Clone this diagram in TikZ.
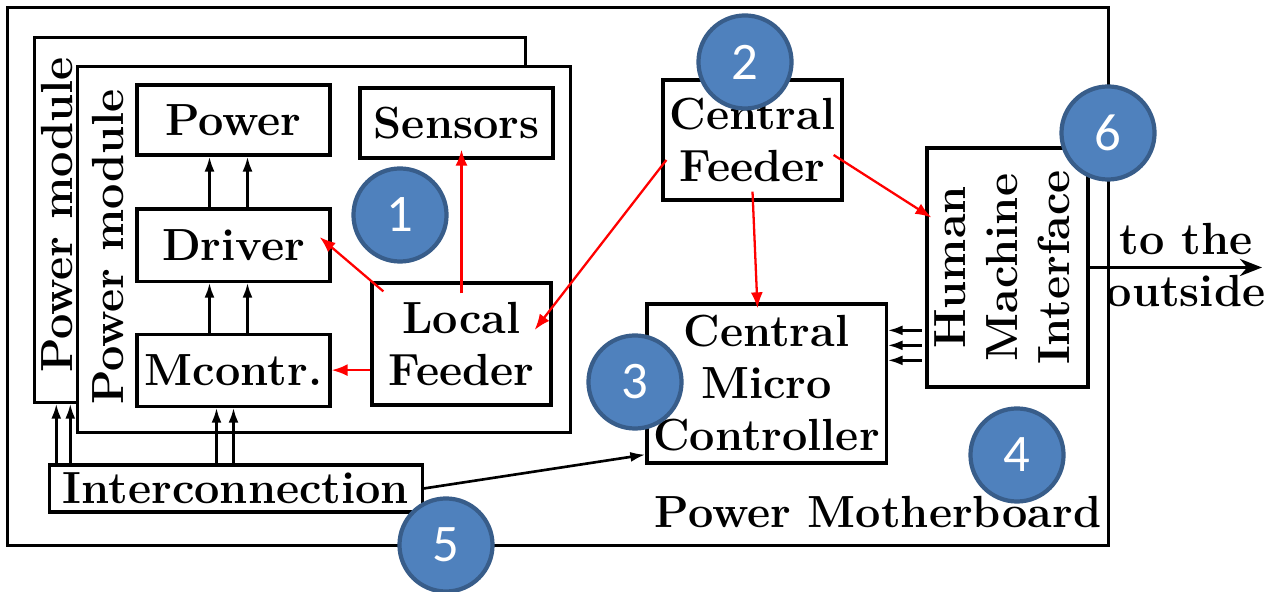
\documentclass[tikz,border=0pt]{standalone}
\usepackage{fontspec}
\usepackage{graphicx}
\newfontfamily\numfont{Carlito}
\usetikzlibrary{calc,arrows.meta}
\definecolor{bubblefill}{RGB}{79,129,189}
\definecolor{bubbledraw}{RGB}{56,93,138}

\begin{document}
\begin{tikzpicture}[x=0.01cm, y=-0.01cm, node distance=1.25cm,
    every node/.style={font=\fontsize{12.8}{14.8}\selectfont\bfseries, align=center},
    box/.style={draw, line width=0.9pt, fill=white, inner sep=0pt},
    bubble/.style={circle, draw=bubbledraw, fill=bubblefill, line width=1.2pt, minimum size=0.93cm, text=white, font=\fontsize{15}{18}\selectfont\numfont},
    link/.style={-{Latex[length=0.15cm, width=0.1cm]}, line width=0.75pt},
    feed/.style={-{Latex[length=0.16cm, width=0.12cm]}, red, line width=0.65pt}]

    \useasboundingbox (0,0) rectangle (1276,592);

    % Boards
    \node[box, minimum width=11cm, minimum height=5.37cm] (board) at (558,276.5) {};
    \node[box, minimum width=4.9cm, minimum height=3.64cm] (pmback) at (280,220) {};
    \node[rotate=90] (pmbacklbl) at (57,215) {Power module};
    \node[box, minimum width=4.92cm, minimum height=3.65cm] (pm) at (324,249.5) {};
    \node[rotate=90] (pmlbl) at (108,247) {Power module};

    % Nodes
    \node[box, minimum width=1.93cm, minimum height=0.7cm] (pwr) at (233.5,120) {Power};
    \node[box, minimum width=1.93cm, minimum height=0.72cm, below of=pwr] (drv) {Driver};
    \node[box, minimum width=1.93cm, minimum height=0.72cm, below of=drv] (mctr) {Mcontr.};
    \node[box, minimum width=1.93cm, minimum height=0.7cm] (sens) at (456.5,123) {Sensors};
    \node[box, minimum width=1.79cm, minimum height=1.22cm] (lfeed) at (461.5,344) {Local\\Feeder};

    \node[box, minimum width=1.79cm, minimum height=1.2cm] (cfeed) at (752.5,140) {Central\\Feeder};
    \node[box, minimum width=2.39cm, minimum height=1.59cm] (cmc) at (766.5,383.5) {Central\\Micro\\Controller};
    \node[box, minimum width=1.61cm, minimum height=2.39cm] (hmi) at (1007.5,267.5) {\rotatebox{90}{\begin{tabular}{@{}c@{}}Human\\Machine\\Interface\end{tabular}}};
    \node[box, minimum width=3.72cm, minimum height=0.47cm] (intc) at (236,488.5) {Interconnection};

    \node (mboard) at (878,512) {Power Motherboard};
    \node (outside) at (1186,265) {to the\\outside};
    \coordinate (exit) at (1262,267.5);

    % Edges inside the module
    \draw[link] ([shift={(-24,0)}]drv.north) -- ([shift={(-24,0)}]pwr.south);
    \draw[link] ([shift={(14,0)}]drv.north) -- ([shift={(14,0)}]pwr.south);
    \draw[link] ([shift={(-24,0)}]mctr.north) -- ([shift={(-24,0)}]drv.south);
    \draw[link] ([shift={(14,0)}]mctr.north) -- ([shift={(14,0)}]drv.south);

    % Edges from the interconnection
    \draw[link] ([shift={(-17,0)}]mctr.south |- intc.north) -- ([shift={(-17,0)}]mctr.south);
    \draw[link] ([shift={(0,0)}]mctr.south |- intc.north) -- ([shift={(0,0)}]mctr.south);
    \draw[link] ([shift={(23,0)}]pmback.south west |- intc.north) -- ([shift={(23,0)}]pmback.south west);
    \draw[link] ([shift={(37,0)}]pmback.south west |- intc.north) -- ([shift={(37,0)}]pmback.south west);
    \draw[link] (intc.east) -- ([shift={(0,-10)}]cmc.south west);

    % HMI to the controller and the outside
    \foreach \dy in {28,43,58}
        \draw[link, shorten <=1pt] ([shift={(0,\dy)}]cmc.north east -| hmi.west) -- ([shift={(0,\dy)}]cmc.north east);
    \draw[-{Stealth[length=0.22cm, width=0.17cm]}, line width=1.1pt] (hmi.east) -- (exit);

    % Feeder edges (red)
    \draw[feed] ([shift={(13,10)}]lfeed.north west) -- ([shift={(-12,-8)}]drv.east);
    \draw[feed] ([shift={(0,12)}]lfeed.north) -- ([shift={(5,-10)}]sens.south);
    \draw[feed] (lfeed.west |- mctr.east) -- (mctr.east);
    \draw[feed] ([shift={(5,20)}]cfeed.west) -- ([shift={(-18,-14)}]lfeed.east);
    \draw[feed] ([shift={(0,-10)}]cfeed.south) -- ([shift={(-9,6)}]cmc.north);
    \draw[feed] ([shift={(-10,15)}]cfeed.east) -- ([shift={(6,-50)}]hmi.west);

    % Numbered bubbles
    \node[bubble] (b1) at (400,215) {1};
    \node[bubble] (b2) at (745,62) {2};
    \node[bubble] (b3) at (635,382) {3};
    \node[bubble] (b4) at (1017,455) {4};
    \node[bubble] (b5) at (446,545) {5};
    \node[bubble] (b6) at (1108,133) {6};

\end{tikzpicture}
\end{document}
